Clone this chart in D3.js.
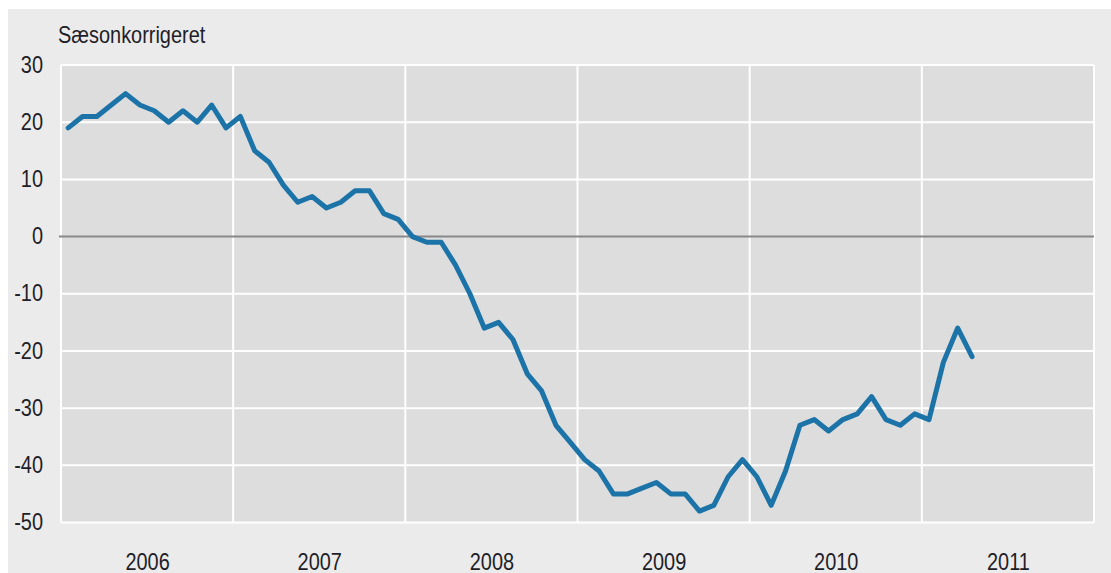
<!DOCTYPE html>
<html>
<head>
<meta charset="utf-8">
<script src="https://cdn.jsdelivr.net/npm/d3@7"></script>
<style>
  html, body { margin: 0; padding: 0; background: #ffffff; }
  svg { display: block; }
  text { font-family: "Liberation Sans", Arial, sans-serif; fill: #1e1e28; }
</style>
</head>
<body>
<svg id="chart" width="1111" height="573"></svg>
<script>
// ---- data (monthly, Jan 2006 – Apr 2011) ----
const startYear = 2006;
const values2006 = [19, 21, 21, 23, 25, 23, 22, 20, 22, 20, 23, 19];
const values2007 = [21, 15, 13, 9, 6, 7, 5, 6, 8, 8, 4, 3];
const values2008 = [0, -1, -1, -5, -10, -16, -15, -18, -24, -27, -33, -36];
const values2009 = [-39, -41, -45, -45, -44, -43, -45, -45, -48, -47, -42, -39];
const values2010 = [-42, -47, -41, -33, -32, -34, -32, -31, -28, -32, -33, -31];
const values2011 = [-32, -22, -16, -21];
const yearLabels = ["2006", "2007", "2008", "2009", "2010", "2011"];
const yTicks = [30, 20, 10, 0, -10, -20, -30, -40, -50];
const yLabel = "Sæsonkorrigeret";

const series = [].concat(values2006, values2007, values2008, values2009, values2010, values2011)
  .map((v, i) => ({ m: i, v: v }));

// ---- layout ----
const svg = d3.select("#chart");
const W = 1111, H = 573;
const plot = { left: 61, right: 1094, top: 65, bottom: 522.5 };
const FS = 24;
const FONT = '"Liberation Sans", Arial, sans-serif';
const CONDENSE = 0.83;

// panel background
svg.append("rect").attr("x", 8).attr("y", 9).attr("width", W - 8).attr("height", H - 9)
  .attr("fill", "#ebebeb");

// plot background
svg.append("rect").attr("x", plot.left).attr("y", plot.top)
  .attr("width", plot.right - plot.left).attr("height", plot.bottom - plot.top)
  .attr("fill", "#dddddd");

const nMonths = yearLabels.length * 12;
const x = d3.scaleLinear().domain([0, nMonths]).range([plot.left, plot.right]);
const y = d3.scaleLinear().domain([-50, 30]).range([plot.bottom, plot.top]);

// horizontal gridlines
svg.append("g").selectAll("line").data(yTicks.filter(d => d !== 0)).join("line")
  .attr("x1", plot.left).attr("x2", plot.right)
  .attr("y1", d => y(d)).attr("y2", d => y(d))
  .attr("stroke", "#ffffff").attr("stroke-width", 2);

// vertical gridlines (year boundaries)
const yearBounds = d3.range(0, yearLabels.length + 1).map(i => i * 12);
svg.append("g").selectAll("line").data(yearBounds).join("line")
  .attr("x1", d => x(d)).attr("x2", d => x(d))
  .attr("y1", plot.top).attr("y2", plot.bottom)
  .attr("stroke", "#ffffff").attr("stroke-width", 2);

// zero line
svg.append("line")
  .attr("x1", plot.left - 2).attr("x2", plot.right)
  .attr("y1", y(0)).attr("y2", y(0))
  .attr("stroke", "#888888").attr("stroke-width", 2);

// y axis labels
const yAxis = d3.axisLeft(y).tickValues(yTicks).tickSize(0).tickPadding(0)
  .tickFormat(d => String(d));
const gy = svg.append("g").attr("transform", `translate(${plot.left - 18},0)`).call(yAxis);
gy.select(".domain").remove();
gy.selectAll("text").attr("font-size", FS)
  .attr("font-family", FONT)
  .attr("fill", "#1e1e28").attr("dy", "0.3em");

// x axis labels (centered in each year)
const xAxis = d3.axisBottom(x).tickValues(yearLabels.map((d, i) => i * 12 + 6))
  .tickSize(0).tickPadding(0).tickFormat((d, i) => yearLabels[i]);
const gx = svg.append("g").attr("transform", `translate(0,${plot.bottom})`).call(xAxis);
gx.select(".domain").remove();
gx.selectAll("text").attr("font-size", FS)
  .attr("font-family", FONT)
  .attr("fill", "#1e1e28").attr("dy", null).attr("y", 47);

// axis title
svg.append("text").attr("x", 58).attr("y", 43).attr("font-size", FS)
  .attr("font-family", FONT).text(yLabel);

// line
const line = d3.line().x(d => x(d.m + 0.5)).y(d => y(d.v));
svg.append("path").datum(series)
  .attr("d", line)
  .attr("fill", "none")
  .attr("stroke", "#1b73a7")
  .attr("stroke-width", 5)
  .attr("stroke-linejoin", "round")
  .attr("stroke-linecap", "round");

// emulate a condensed typeface
svg.selectAll("text").each(function () {
  const w = this.getComputedTextLength();
  d3.select(this).attr("textLength", (w * CONDENSE).toFixed(1))
    .attr("lengthAdjust", "spacingAndGlyphs");
});
</script>
</body>
</html>
